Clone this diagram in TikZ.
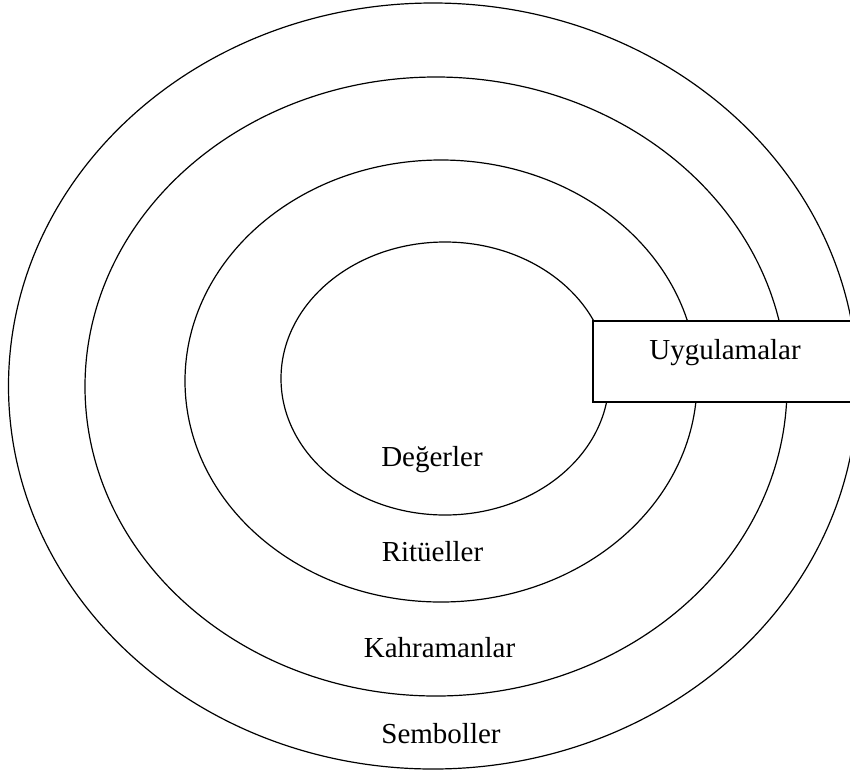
\documentclass[tikz,border=0pt]{standalone}
\usepackage{fontspec}
\setmainfont{Liberation Serif}
\begin{document}
\begin{tikzpicture}[x=1pt,y=-1pt,
  ring/.style={draw=black,line width=1.2pt},
  lbl/.style={font=\fontsize{29}{35}\selectfont,anchor=base,inner sep=0pt},
  boxstyle/.style={draw=black,fill=white,line width=1.4pt}]
\useasboundingbox (0,0) rectangle (850,774);
\clip (0,0) rectangle (850,774);
\draw[ring] (433,386) ellipse [x radius=424.5, y radius=383];
\draw[ring] (436,386.5) ellipse [x radius=351, y radius=309.5];
\draw[ring] (441,381) ellipse [x radius=256, y radius=221];
\draw[ring] (445,378.5) ellipse [x radius=164, y radius=136.5];
\draw[boxstyle] (593,321) rectangle (870,402);
\node[lbl] (uyg) at (725,359) {Uygulamalar};
\node[lbl] (deg) at (432,466.5) {Değerler};
\node[lbl] (rit) at (432.5,561.5) {Ritüeller};
\node[lbl] (kah) at (439.5,657.5) {Kahramanlar};
\node[lbl] (sem) at (441,743) {Semboller};
\end{tikzpicture}
\end{document}
